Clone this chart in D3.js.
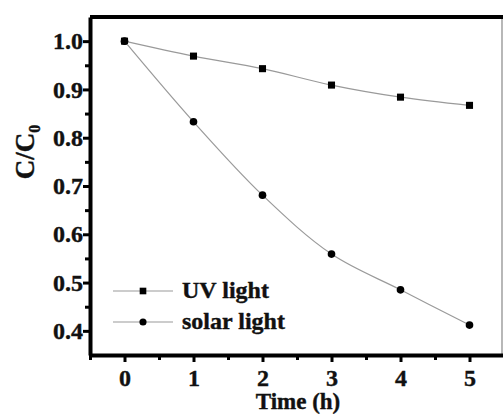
<!DOCTYPE html>
<html>
<head>
<meta charset="utf-8">
<script src="https://cdn.jsdelivr.net/npm/d3@7"></script>
<style>
  html, body { margin: 0; padding: 0; background: #fff; }
  svg text { font-family: "Liberation Serif", "DejaVu Serif", serif; font-weight: bold; fill: #111; stroke: #111; stroke-width: 0.4; }
</style>
</head>
<body>
<div id="wrapper"></div>
<script>
// time points (h)
const times = [0, 1, 2, 3, 4, 5]
// C/C0 for each series
const uvValues = [1.0, 0.969, 0.943, 0.909, 0.884, 0.867]
const solarValues = [1.0, 0.833, 0.681, 0.559, 0.485, 0.412]
const seriesNames = ["UV light", "solar light"]
const xTicks = [0, 1, 2, 3, 4, 5]
const yTicks = [0.4, 0.5, 0.6, 0.7, 0.8, 0.9, 1.0]

function drawChart() {
  const dimensions = {
    width: 503,
    height: 414,
    margin: { top: 17, right: -1, bottom: 59, left: 90 },
  }
  dimensions.boundedWidth = dimensions.width - dimensions.margin.left - dimensions.margin.right
  dimensions.boundedHeight = dimensions.height - dimensions.margin.top - dimensions.margin.bottom

  const wrapper = d3.select("#wrapper")
    .append("svg")
      .attr("width", dimensions.width)
      .attr("height", dimensions.height)

  const bounds = wrapper.append("g")
    .attr("transform", `translate(${dimensions.margin.left},${dimensions.margin.top})`)

  const xScale = d3.scaleLinear()
    .domain([-0.5, 5.5])
    .range([0, dimensions.boundedWidth])

  const yScale = d3.scaleLinear()
    .domain([0.35, 1.05])
    .range([dimensions.boundedHeight, 0])

  // frame: thin right border, thick top
  bounds.append("line")
    .attr("x1", dimensions.boundedWidth - 2).attr("x2", dimensions.boundedWidth - 2)
    .attr("y1", 0).attr("y2", dimensions.boundedHeight)
    .attr("stroke", "#888").attr("stroke-width", 1.2)
  bounds.append("line")
    .attr("x1", 0).attr("x2", dimensions.boundedWidth)
    .attr("y1", 0).attr("y2", 0)
    .attr("stroke", "#000").attr("stroke-width", 4)

  // minor ticks
  const xMinor = d3.range(-0.5, 5.6, 1)
  const yMinor = d3.range(0.45, 1.0, 0.1)
  bounds.append("g")
    .attr("transform", `translate(0,${dimensions.boundedHeight})`)
    .call(d3.axisBottom(xScale).tickValues(xMinor).tickSize(5).tickFormat(""))
    .call(g => g.select(".domain").remove())
    .call(g => g.selectAll("line").attr("stroke-width", 3).attr("stroke", "#000"))
  bounds.append("g")
    .call(d3.axisLeft(yScale).tickValues(yMinor).tickSize(5).tickFormat(""))
    .call(g => g.select(".domain").remove())
    .call(g => g.selectAll("line").attr("stroke-width", 3).attr("stroke", "#000"))

  // major axes
  const xAxis = bounds.append("g")
    .attr("transform", `translate(0,${dimensions.boundedHeight})`)
    .call(d3.axisBottom(xScale).tickValues(xTicks).tickSize(7).tickSizeOuter(0).tickPadding(7).tickFormat(d3.format("d")))
  xAxis.select(".domain").attr("stroke-width", 4).attr("stroke", "#000")
  xAxis.selectAll("line").attr("stroke-width", 3).attr("stroke", "#000")
  xAxis.selectAll("text").attr("font-size", 24).attr("fill", "#111")

  const yAxis = bounds.append("g")
    .call(d3.axisLeft(yScale).tickValues(yTicks).tickSize(7).tickSizeOuter(0).tickPadding(0).tickFormat(d3.format(".1f")))
  yAxis.select(".domain").attr("stroke-width", 4).attr("stroke", "#000")
  yAxis.selectAll("line").attr("stroke-width", 3).attr("stroke", "#000")
  yAxis.selectAll("text").attr("font-size", 24).attr("fill", "#111")
  wrapper.selectAll("g").attr("font-family", null)

  // series
  const lineGenerator = d3.line()
    .x((d, i) => xScale(times[i]))
    .y(d => yScale(d))
    .curve(d3.curveCatmullRom)

  const series = [
    { name: seriesNames[0], values: uvValues, symbol: d3.symbolSquare, size: 50 },
    { name: seriesNames[1], values: solarValues, symbol: d3.symbolCircle, size: 46 },
  ]

  series.forEach(s => {
    bounds.append("path")
      .attr("d", lineGenerator(s.values))
      .attr("fill", "none")
      .attr("stroke", "#9a9a9a")
      .attr("stroke-width", 1.2)
    bounds.selectAll(null)
      .data(s.values)
      .join("path")
        .attr("d", d3.symbol(s.symbol, s.size))
        .attr("transform", (d, i) => `translate(${xScale(times[i])},${yScale(d)})`)
        .attr("fill", "#000")
  })

  // legend
  const legend = bounds.append("g")
    .attr("transform", `translate(${113 - dimensions.margin.left},${291 - dimensions.margin.top})`)
  series.forEach((s, i) => {
    const row = legend.append("g").attr("transform", `translate(0,${i * 31})`)
    row.append("line")
      .attr("x1", 0).attr("x2", 60)
      .attr("stroke", "#9a9a9a").attr("stroke-width", 1.2)
    row.append("path")
      .attr("d", d3.symbol(s.symbol, s.size - 6))
      .attr("transform", "translate(30,0)")
      .attr("fill", "#000")
    row.append("text")
      .attr("x", 69).attr("y", 7)
      .attr("font-size", 24)
      .text(s.name)
  })

  // axis titles
  wrapper.append("text")
    .attr("x", 298).attr("y", 409)
    .attr("text-anchor", "middle")
    .attr("font-size", 23)
    .text("Time (h)")

  const yLabel = wrapper.append("text")
    .attr("transform", "translate(34,152) rotate(-90)")
    .attr("text-anchor", "middle")
    .attr("font-size", 27)
  yLabel.append("tspan").text("C/C")
  yLabel.append("tspan").attr("font-size", 16).attr("dy", 6).text("0")
}

drawChart()
</script>
</body>
</html>
